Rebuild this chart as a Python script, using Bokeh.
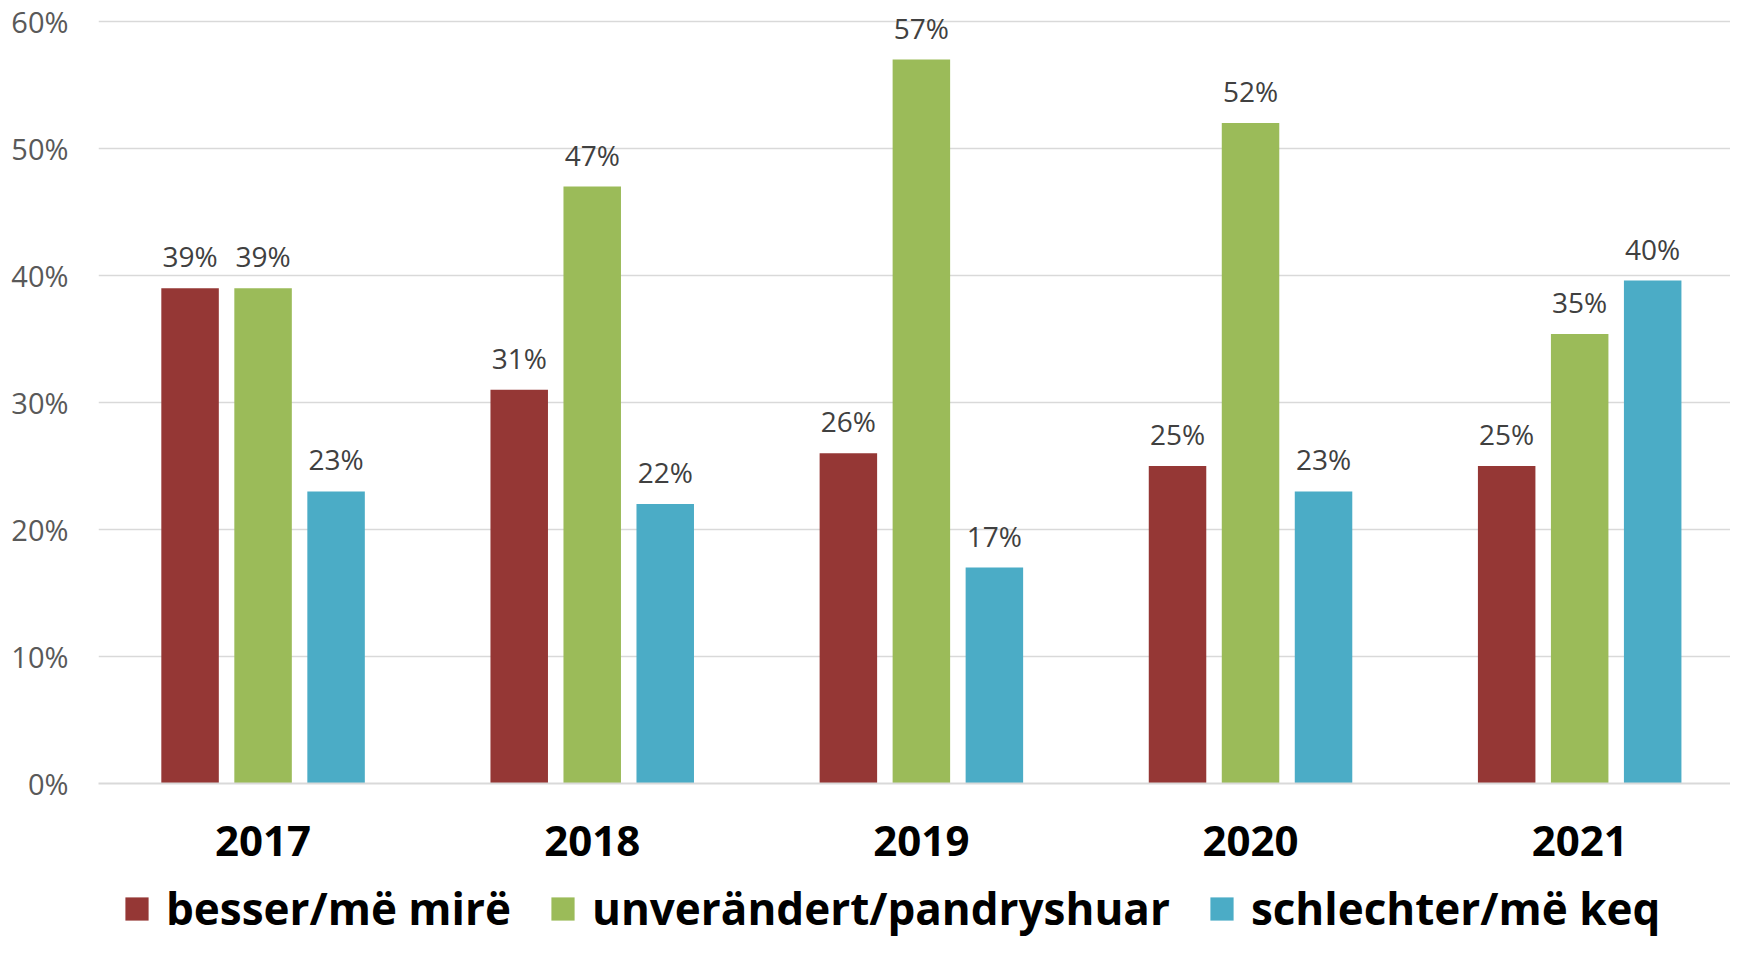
from bokeh.plotting import figure
from bokeh.layouts import column
from bokeh.models import ColumnDataSource, Range1d, NumeralTickFormatter, Legend, LegendItem, FixedTicker
from bokeh.transform import dodge
from bokeh.core.properties import value
from bokeh.embed import file_html
from bokeh.resources import INLINE

years = ["2017", "2018", "2019", "2020", "2021"]
series_names = ["besser/më mirë", "unverändert/pandryshuar", "schlechter/më keq"]
besser = [0.39, 0.31, 0.26, 0.25, 0.25]
unveraendert = [0.39, 0.47, 0.57, 0.52, 0.354]
schlechter = [0.23, 0.22, 0.17, 0.23, 0.396]
colors = ["#953735", "#9BBB59", "#4BACC6"]
y_ticks = [0, 0.1, 0.2, 0.3, 0.4, 0.5, 0.6]

# category slots (one unit per year, centred at i + 0.5)
xpos = [i + 0.5 for i in range(len(years))]

src = ColumnDataSource(dict(
    x=xpos, years=years,
    besser=besser, unveraendert=unveraendert, schlechter=schlechter,
    besser_lbl=[f"{round(v*100)}%" for v in besser],
    unveraendert_lbl=[f"{round(v*100)}%" for v in unveraendert],
    schlechter_lbl=[f"{round(v*100)}%" for v in schlechter],
))

W = 1730
H_MAIN = 877
H_LEG = 61
LEFT = 98
X_END = (W - LEFT) / 329.15

p = figure(width=W, height=H_MAIN, x_range=Range1d(0, X_END),
           y_range=Range1d(0, 0.6165), output_backend="svg", toolbar_location=None,
           min_border_left=LEFT, min_border_right=0, min_border_top=0, min_border_bottom=H_MAIN - 783)
p.outline_line_color = None
p.background_fill_color = "white"

fields = ["besser", "unveraendert", "schlechter"]
offsets = [-0.2218, 0.0, 0.2218]
for f, off, c in zip(fields, offsets, colors):
    p.vbar(x=dodge("x", off), top=f, width=0.1747, source=src,
           fill_color=c, line_color=None)
    p.text(x=dodge("x", off), y=f, text=f + "_lbl", source=src,
           text_align="center", text_baseline="bottom", y_offset=-13,
           text_font=value("Open Sans"), text_font_size="28px", text_color="#404040")

p.xgrid.grid_line_color = None
p.ygrid.grid_line_color = "#d9d9d9"
p.ygrid.grid_line_width = 1.5
p.yaxis.ticker = FixedTicker(ticks=y_ticks)
p.yaxis.formatter = NumeralTickFormatter(format="0%")
p.yaxis.axis_line_color = None
p.yaxis.major_tick_line_color = None
p.yaxis.minor_tick_line_color = None
p.yaxis.major_label_text_font = "Open Sans"
p.yaxis.major_label_text_font_size = "29px"
p.yaxis.major_label_text_color = "#595959"
p.yaxis.major_label_standoff = 24

p.xaxis.ticker = FixedTicker(ticks=xpos)
p.xaxis.major_label_overrides = {x: y for x, y in zip(xpos, years)}
p.xaxis.axis_line_color = "#d9d9d9"
p.xaxis.axis_line_width = 2
p.xaxis.major_tick_line_color = None
p.xaxis.minor_tick_line_color = None
p.xaxis.major_label_text_font = "Open Sans"
p.xaxis.major_label_text_font_style = "bold"
p.xaxis.major_label_text_font_size = "42px"
p.xaxis.major_label_text_color = "#000000"
p.xaxis.major_label_standoff = 36

# legend strip
leg = figure(width=W, height=H_LEG, x_range=Range1d(0, 1), y_range=Range1d(0, 1),
             output_backend="svg", toolbar_location=None, x_axis_type=None, y_axis_type=None,
             min_border=0)
leg.outline_line_color = None
leg.xgrid.grid_line_color = None
leg.ygrid.grid_line_color = None
leg_src = ColumnDataSource(dict(x=[-5.0], top=[-5.0]))
leg_renderers = [leg.vbar(x="x", top="top", width=0.1, source=leg_src, fill_color=c, line_color=None)
                 for c in colors]
legend = Legend(items=[LegendItem(label=n, renderers=[r]) for n, r in zip(series_names, leg_renderers)],
                orientation="horizontal", location=(24, 0),
                glyph_width=29, glyph_height=29, label_standoff=15, spacing=37,
                padding=0, margin=0, border_line_color=None, background_fill_alpha=0,
                label_text_font="Open Sans", label_text_font_style="bold",
                label_text_font_size="44px", label_text_color="#000000")
leg.add_layout(legend, "center")

layout = column(p, leg, spacing=0)
open("out.html", "w").write(file_html(layout, INLINE))
